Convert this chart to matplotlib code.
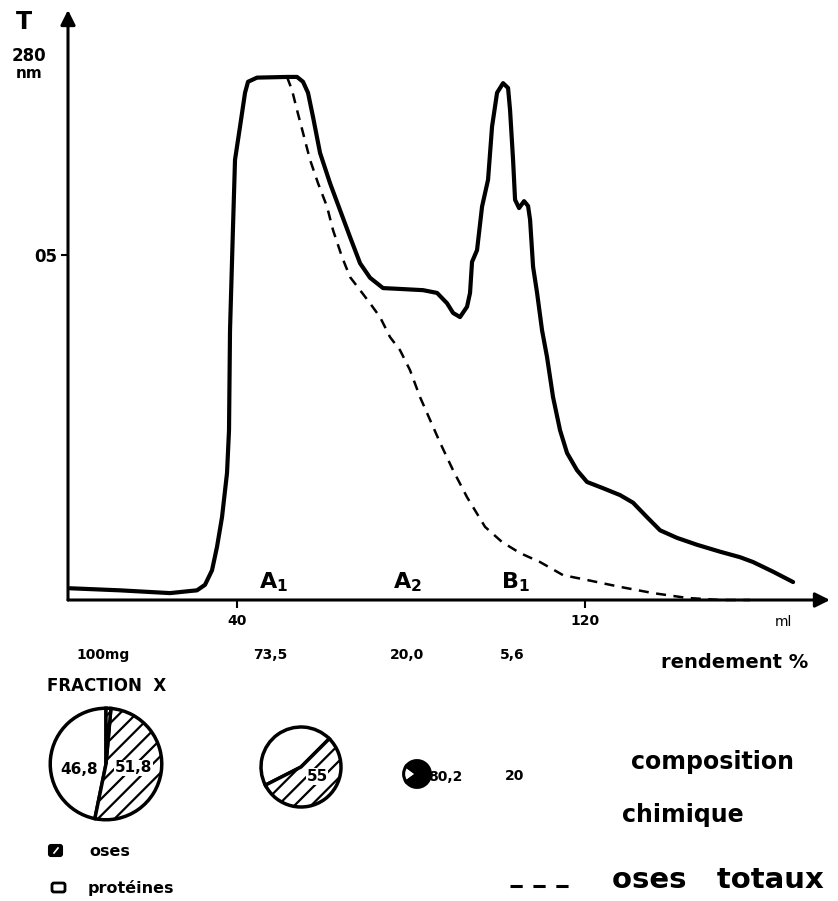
import matplotlib
matplotlib.use("Agg")
import matplotlib.pyplot as plt
from matplotlib.patches import FancyBboxPatch

plt.rcParams['font.family'] = ['DejaVu Sans']
plt.rcParams['font.weight'] = 'bold'
plt.rcParams['hatch.linewidth'] = 1.6

# elution profile (ml, absorbance at 280 nm)
vol_total = [1.61, 13.10, 24.60, 29.20, 30.80, 32.64, 34.25, 35.40, 36.55, 37.70, 38.16,
             38.39, 39.08, 39.54, 40.69, 41.84, 42.53, 44.60, 51.49, 53.79, 55.17, 56.32,
             57.47, 59.08, 61.38, 63.68, 65.98, 68.28, 70.57, 73.56, 76.78, 82.76, 85.98,
             88.28, 89.66, 91.26, 92.87, 93.56, 94.02, 95.17, 96.32, 97.70, 98.62, 99.77,
             101.15, 102.30, 102.76, 103.45, 103.91, 104.83, 105.98, 106.90, 107.36,
             108.05, 108.97, 110.11, 111.26, 112.64, 114.25, 115.86, 118.16, 120.46,
             124.14, 128.05, 131.03, 134.25, 137.24, 141.15, 145.75, 151.03, 155.63,
             158.62, 163.22, 167.82]
abs_total = [0.017, 0.014, 0.010, 0.013, 0.014, 0.022, 0.043, 0.077, 0.120, 0.184, 0.246,
             0.391, 0.541, 0.638, 0.686, 0.735, 0.751, 0.757, 0.758, 0.758, 0.751, 0.735,
             0.700, 0.648, 0.604, 0.565, 0.526, 0.488, 0.467, 0.452, 0.451, 0.449, 0.445,
             0.430, 0.416, 0.410, 0.425, 0.445, 0.490, 0.507, 0.570, 0.609, 0.686, 0.735,
             0.749, 0.742, 0.710, 0.638, 0.580, 0.568, 0.578, 0.571, 0.551, 0.483, 0.445,
             0.391, 0.352, 0.294, 0.246, 0.213, 0.188, 0.171, 0.162, 0.152, 0.141, 0.120,
             0.101, 0.090, 0.080, 0.070, 0.062, 0.055, 0.041, 0.026]

# oses totaux (dashed)
vol_oses = [51.49, 52.64, 53.79, 55.17, 56.78, 58.62, 60.69, 62.07, 64.14, 65.98, 68.28,
            70.57, 72.87, 75.17, 77.47, 79.77, 82.07, 84.37, 86.67, 89.66, 92.87, 97.01,
            100.92, 105.06, 109.66, 114.94, 120.46, 128.05, 135.63, 143.45, 151.03, 157.93]
abs_oses = [0.758, 0.739, 0.710, 0.677, 0.638, 0.604, 0.570, 0.536, 0.497, 0.468, 0.449,
            0.430, 0.410, 0.381, 0.362, 0.333, 0.294, 0.261, 0.228, 0.188, 0.149, 0.106,
            0.084, 0.068, 0.055, 0.036, 0.029, 0.019, 0.010, 0.003, 0.0, 0.0]

pics = ['A', 'A', 'B']
pics_idx = ['1', '2', '1']
pics_vol = [48.3, 79.1, 103.9]
rendement = ['100mg', '73,5', '20,0', '5,6']

# composition chimique : [protéines, oses, reste]
comp_x = [46.8, 51.8, 1.4]
comp_a1 = [45, 55]
comp_a2 = [20, 80.2]

fig = plt.figure(figsize=(8.38, 9.01), dpi=100)
W, H = 838, 901

ax = fig.add_axes([68 / W, (H - 600) / H, (830 - 68) / W, 590 / H])
ax.set_xlim(1.15, 176.3)
ax.set_ylim(0, 0.855)
for s in ax.spines.values():
    s.set_visible(False)
ax.plot(vol_total, abs_total, color='k', lw=3.0, solid_capstyle='round',
        solid_joinstyle='round', clip_on=False)
ax.plot(vol_oses, abs_oses, color='k', lw=1.8, linestyle=(0, (4, 3)), clip_on=False)

arrow = dict(arrowstyle='-|>', lw=2.2, color='k', mutation_scale=22, shrinkA=0, shrinkB=0)
ax.annotate('', xy=(1.0, 0), xytext=(0, 0), xycoords='axes fraction', arrowprops=arrow)
ax.annotate('', xy=(0, 1.0), xytext=(0, 0), xycoords='axes fraction', arrowprops=arrow)

ax.set_xticks([40, 120])
ax.set_xticklabels(['40', '120'])
ax.set_yticks([0.5])
ax.set_yticklabels(['05'])
ax.tick_params(axis='x', direction='out', length=6, width=1.5, pad=4, labelsize=10)
ax.tick_params(axis='y', direction='out', length=5, width=1.5, pad=3, labelsize=12)

for p, i, v in zip(pics, pics_idx, pics_vol):
    ax.text(v, 0.017, p + r'$_{\rm ' + i + '}$', fontsize=16, ha='center', va='baseline')

# textes et légendes en coordonnées pixel
ov = fig.add_axes([0, 0, 1, 1])
ov.set_xlim(0, W)
ov.set_ylim(H, 0)
ov.axis('off')

ov.text(24, 22, 'T', fontsize=17, ha='center', va='center')
ov.text(29, 56, '280', fontsize=12, ha='center', va='center')
ov.text(29, 73, 'nm', fontsize=11, ha='center', va='center')
ov.text(783, 622, 'ml', fontsize=10, ha='center', va='center', fontweight='normal')

for x, t in zip([103, 270, 407, 512], rendement):
    ov.text(x, 655, t, fontsize=10, ha='center', va='center')
ov.text(735, 662, 'rendement %', fontsize=14, ha='center', va='center')
ov.text(47, 686, 'FRACTION  X', fontsize=12, ha='left', va='center')

ov.text(712, 762, 'composition', fontsize=17, ha='center', va='center')
ov.text(622, 815, 'chimique', fontsize=17, ha='left', va='center')
ov.plot([510, 577], [886, 886], color='k', lw=2.2, linestyle=(0, (4, 3.5)))
ov.text(612, 880, 'oses   totaux', fontsize=21, ha='left', va='center')

ov.add_patch(FancyBboxPatch((49, 845), 13, 11, boxstyle='round,pad=0,rounding_size=2',
                            facecolor='k', edgecolor='k', lw=1.5))
ov.plot([54, 58], [853, 848], color='w', lw=1.2)
ov.text(89, 851, 'oses', fontsize=11.5, ha='left', va='center')
ov.add_patch(FancyBboxPatch((52, 883), 13, 9, boxstyle='round,pad=0,rounding_size=2',
                            facecolor='w', edgecolor='k', lw=2))
ov.text(88, 888, 'protéines', fontsize=11.5, ha='left', va='center')


def pie_axes(cx, cy, r):
    pa = fig.add_axes([(cx - r) / W, (H - cy - r) / H, 2 * r / W, 2 * r / H])
    return pa


def fmt(v):
    return f'{v:g}'.replace('.', ',')


# fraction X
pa = pie_axes(106, 764, 58)
w, _ = pa.pie(comp_x, colors=['w', 'w', 'w'], startangle=90, counterclock=True,
              wedgeprops=dict(edgecolor='k', linewidth=2.5))
w[1].set_hatch('//')
w[2].set_hatch('///')
pa.set_xlim(-1.04, 1.04)
pa.set_ylim(-1.04, 1.04)
pa.text(-0.48, -0.1, fmt(comp_x[0]), fontsize=11, ha='center', va='center')
pa.text(0.5, -0.07, fmt(comp_x[1]), fontsize=11, ha='center', va='center',
        bbox=dict(facecolor='w', edgecolor='none', pad=0.5))

# A1
pa = pie_axes(301, 767, 42)
w, _ = pa.pie(comp_a1, colors=['w', 'w'], startangle=45, counterclock=True,
              wedgeprops=dict(edgecolor='k', linewidth=2.5))
w[1].set_hatch('//')
pa.set_xlim(-1.05, 1.05)
pa.set_ylim(-1.05, 1.05)
pa.text(0.4, -0.24, fmt(comp_a1[1]), fontsize=11, ha='center', va='center',
        bbox=dict(facecolor='w', edgecolor='none', pad=0.5))

# A2
pa = pie_axes(417, 774, 15)
w, _ = pa.pie(comp_a2, colors=['w', 'k'], startangle=144, counterclock=True,
              wedgeprops=dict(edgecolor='k', linewidth=2.2))
pa.set_xlim(-1.12, 1.12)
pa.set_ylim(-1.12, 1.12)
ov.text(428, 777, fmt(comp_a2[1]), fontsize=10, ha='left', va='center')
ov.text(515, 776, fmt(comp_a2[0]), fontsize=10, ha='center', va='center')

fig.savefig('out.png', dpi=100, facecolor='w')
